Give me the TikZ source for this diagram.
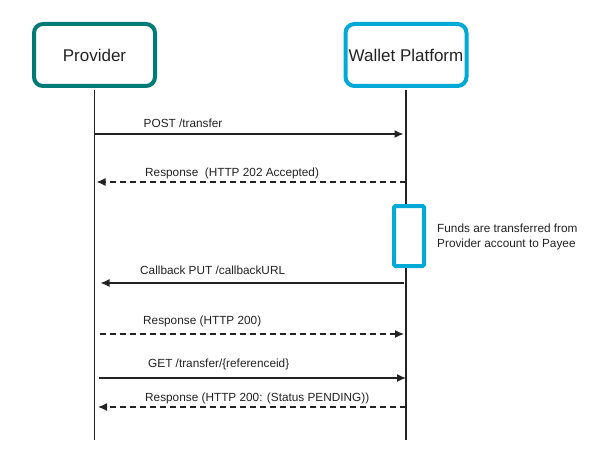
\documentclass[tikz,border=0pt]{standalone}
\usepackage{fontspec}
\setmainfont{Liberation Sans}
\usetikzlibrary{arrows.meta}
\definecolor{provteal}{HTML}{007B76}
\definecolor{walletblue}{HTML}{00A9D6}
\definecolor{inkgray}{HTML}{222222}

\begin{document}
\begin{tikzpicture}
[x=1pt, y=-1pt,
 actor/.style={draw, line width=4pt, rounded corners=9pt, minimum width=121pt, minimum height=62pt,
   inner sep=0pt, text=inkgray, font=\fontsize{17}{20}\selectfont},
 lifeline/.style={line width=1.3pt, draw=inkgray},
 msg/.style={line width=1.4pt, draw=inkgray, -{Latex[length=9pt,width=8pt]}},
 reply/.style={msg, dash pattern=on 6pt off 4pt},
 msglabel/.style={anchor=base west, inner sep=0pt, text=inkgray, font=\fontsize{11.8}{14}\selectfont}]
\useasboundingbox (0,0) rectangle (600,468);

\node [actor, draw=provteal] (provider) at (94.5,55) {Provider};
\node [actor, draw=walletblue] (wallet) at (406,55) {Wallet Platform};
\coordinate (provend) at (94.5,440);
\coordinate (walletend) at (406,440);
\draw [lifeline] ([yshift=-2pt]provider.south) to (provend);
\draw [lifeline] ([yshift=-2pt]wallet.south) to (walletend);

\foreach \row/\y in {post/134, accepted/182, callback/283, ok/334, get/378, pending/407}{
	\coordinate (p-\row) at (94.5,\y);
	\coordinate (w-\row) at (406,\y);
}

\draw [msg, shorten >=2.5pt] (p-post) to (w-post);
\node [msglabel] (post) at (143.5,128) {POST /transfer};

\draw [reply, shorten >=2pt] (w-accepted) to (p-accepted);
\node [msglabel] (accepted) at (145,176.5) {Response\ \ (HTTP 202 Accepted)};

\node [draw=walletblue, line width=4pt, fill=white, rounded corners=1.5pt,
  minimum width=30pt, minimum height=60pt] (funding) at (409,236) {};
\node [anchor=west, align=left, inner sep=0pt, text=inkgray, font=\fontsize{11.8}{15}\selectfont]
  (note) at (437,236.5) {Funds are transferred from\\Provider account to Payee};

\draw [msg, shorten <=2pt, shorten >=6pt] (w-callback) to (p-callback);
\node [msglabel] (callback) at (140,274) {Callback PUT /callbackURL};

\draw [reply, shorten <=5pt, shorten >=2pt] (p-ok) to (w-ok);
\node [msglabel] (ok) at (143,324) {Response (HTTP 200)};

\draw [msg, shorten <=4.5pt] (p-get) to (w-get);
\node [msglabel] (get) at (148,367) {GET /transfer/\{referenceid\}};

\draw [reply, shorten >=3.5pt] (w-pending) to (p-pending);
\node [msglabel] (pending) at (145,401) {Response (HTTP 200: (Status PENDING))};
\end{tikzpicture}
\end{document}
